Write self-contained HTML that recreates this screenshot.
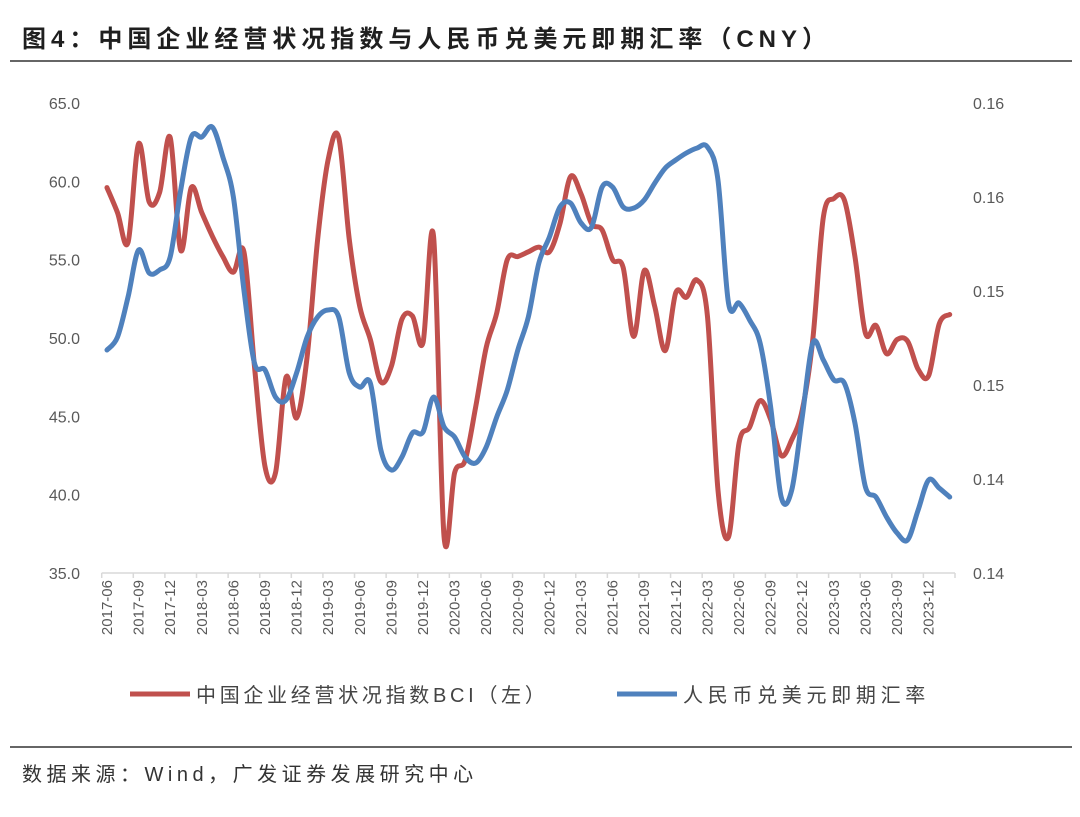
<!DOCTYPE html>
<html><head><meta charset="utf-8"><style>
body{margin:0;background:#fff;width:1080px;height:812px;overflow:hidden;font-family:"Liberation Sans","Noto Sans CJK SC",sans-serif}
</style></head><body>
<svg id="c" width="1080" height="812" xmlns="http://www.w3.org/2000/svg">
<text x="22" y="47" font-size="24" font-weight="bold" letter-spacing="5" fill="#1f1f1f" font-family="Liberation Sans,Noto Sans CJK SC,sans-serif">图4：中国企业经营状况指数与人民币兑美元即期汇率（CNY）</text>
<line x1="10" y1="61" x2="1072" y2="61" stroke="#333" stroke-width="1.5"/>
<line x1="10" y1="747" x2="1072" y2="747" stroke="#333" stroke-width="1.5"/>
<text x="22" y="781" font-size="20" letter-spacing="4.5" fill="#333" font-family="Liberation Sans,Noto Sans CJK SC,sans-serif">数据来源：Wind，广发证券发展研究中心</text>
<g id="legend">
<line x1="130" y1="694" x2="190" y2="694" stroke="#c0504d" stroke-width="5"/>
<text x="196" y="702" font-size="20" letter-spacing="3.7" fill="#444" font-family="Liberation Sans,Noto Sans CJK SC,sans-serif">中国企业经营状况指数BCI（左）</text>
<line x1="617" y1="694" x2="677" y2="694" stroke="#4f81bd" stroke-width="5"/>
<text x="683" y="702" font-size="20" letter-spacing="4.7" fill="#444" font-family="Liberation Sans,Noto Sans CJK SC,sans-serif">人民币兑美元即期汇率</text>
</g>
</svg>
<script>
const leftTicks=[35,40,45,50,55,60,65];
const leftTickLabels=["35.0","40.0","45.0","50.0","55.0","60.0","65.0"];
const rightTicks=[0.135,0.140,0.145,0.150,0.155,0.160];
const rightTickLabels=["0.14","0.14","0.15","0.15","0.16","0.16"];
const startYear=2017, startMonth=6, nMonths=81;
const bci=[59.6,58.0,56.1,62.4,58.7,59.3,62.8,55.6,59.6,58.0,56.5,55.2,54.2,55.5,48.2,41.8,41.4,47.5,44.9,48.8,56.3,61.4,62.8,56.3,52.0,49.9,47.2,48.2,51.2,51.4,49.7,56.5,37.3,41.4,42.2,45.6,49.4,51.6,55.0,55.2,55.5,55.8,55.5,57.3,60.3,59.2,57.3,56.9,55.0,54.5,50.1,54.3,52.0,49.2,52.9,52.6,53.7,51.4,40.3,37.3,43.3,44.3,46.0,44.8,42.5,43.5,45.4,49.9,57.7,58.9,58.8,55.2,50.3,50.8,49.0,49.9,49.8,48.0,47.6,50.9,51.5];
const cny=[0.14686,0.14755,0.14968,0.15218,0.15096,0.15112,0.15181,0.15537,0.15819,0.15819,0.15872,0.15713,0.155,0.15005,0.14617,0.1458,0.14436,0.1442,0.14564,0.14755,0.14862,0.14899,0.14862,0.14564,0.14489,0.1451,0.14154,0.14048,0.14117,0.14245,0.1425,0.14436,0.14277,0.14223,0.14117,0.14085,0.1417,0.1433,0.14473,0.14686,0.14862,0.15149,0.15287,0.15447,0.15468,0.15362,0.1534,0.15553,0.15553,0.15447,0.15441,0.15484,0.15574,0.15654,0.15697,0.15734,0.1576,0.15766,0.1559,0.14936,0.14936,0.14846,0.14723,0.14383,0.13904,0.13941,0.1433,0.14723,0.14633,0.14527,0.1451,0.14298,0.13957,0.13904,0.13798,0.13713,0.13676,0.13835,0.13995,0.13952,0.13904];
const NS="http://www.w3.org/2000/svg";
const svg=document.getElementById('c');
const X0=101.7,X1=955,Y0=573,Y1=103;
const bw=(X1-X0)/nMonths;
const xs=i=>X0+(i+0.5)*bw;
const yl=v=>Y0-(v-35)/(65-35)*(Y0-Y1);
const yr=v=>Y0-(v-0.135)/(0.160-0.135)*(Y0-Y1);
function mk(t,a){const e=document.createElementNS(NS,t);for(const k in a)e.setAttribute(k,a[k]);svg.appendChild(e);return e;}
const F='Liberation Sans,Noto Sans CJK SC,sans-serif';
leftTicks.forEach((v,i)=>{const t=mk('text',{x:80,y:yl(v)+6,'text-anchor':'end','font-size':16,fill:'#595959','font-family':F});t.textContent=leftTickLabels[i];

});
rightTicks.forEach((v,i)=>{const t=mk('text',{x:973,y:yr(v)+6,'font-size':16,fill:'#595959','font-family':F});t.textContent=rightTickLabels[i];

});
const ax=mk('line',{x1:X0,y1:Y0,x2:X1,y2:Y0,stroke:'#d9d9d9','stroke-width':1.5});


for(let i=0;i<=nMonths;i+=3){const tk=mk('line',{x1:X0+i*bw,y1:Y0,x2:X0+i*bw,y2:Y0+5,stroke:'#d9d9d9','stroke-width':1.5});

}
for(let i=0;i<nMonths;i+=3){const m=startMonth-1+i;const y=startYear+Math.floor(m/12);const mm=m%12+1;
const x=xs(i)+5;const t=mk('text',{x:x,y:580,'text-anchor':'end','font-size':15,fill:'#595959','font-family':F,transform:`rotate(-90 ${x} 580)`});
t.textContent=y+'-'+String(mm).padStart(2,'0');

}
function path(vals,yf){const p=vals.map((v,i)=>[xs(i),yf(v)]);let d=`M${p[0][0]},${p[0][1]}`;
for(let i=0;i<p.length-1;i++){const a=p[Math.max(0,i-1)],b=p[i],c=p[i+1],e=p[Math.min(p.length-1,i+2)];
const c1=[b[0]+(c[0]-a[0])/6,b[1]+(c[1]-a[1])/6],c2=[c[0]-(e[0]-b[0])/6,c[1]-(e[1]-b[1])/6];
d+=` C${c1[0]},${c1[1]} ${c2[0]},${c2[1]} ${c[0]},${c[1]}`;}return d;}
const pr=mk('path',{d:path(bci,yl),fill:'none',stroke:'#c0504d','stroke-width':5,'stroke-linejoin':'round','stroke-linecap':'round'});


const pb=mk('path',{d:path(cny,yr),fill:'none',stroke:'#4f81bd','stroke-width':5,'stroke-linejoin':'round','stroke-linecap':'round'});


</script>
</body></html>
